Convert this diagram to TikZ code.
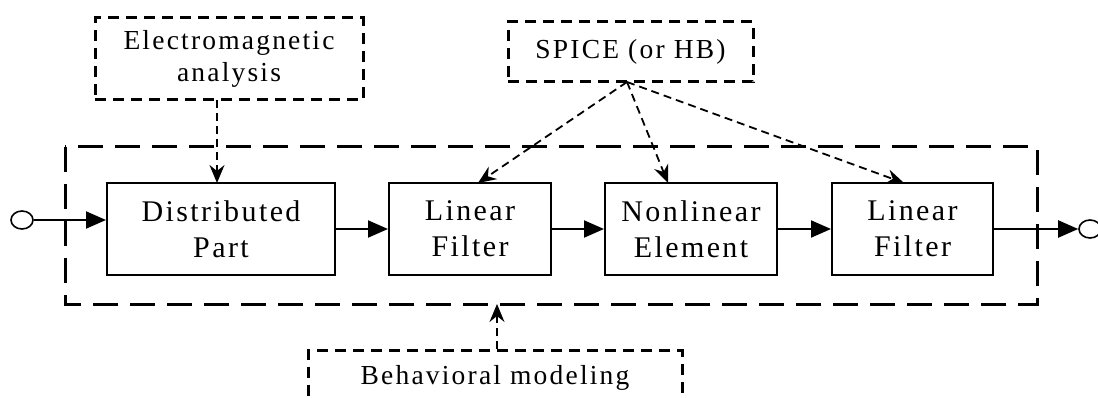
\documentclass[tikz,border=0pt]{standalone}
\usepackage{fontspec}
\setmainfont{Liberation Serif}[LetterSpace=8]
\usetikzlibrary{arrows.meta,calc,shapes.geometric}
\begin{document}
\begin{tikzpicture}[x=1pt,y=-1pt,
  blk/.style={draw,line width=2pt,inner sep=0pt,align=center,font=\fontsize{30}{36}\selectfont},
  dbox/.style={draw,line width=3pt,dash pattern=on 11pt off 7pt,inner sep=0pt,align=center,font=\fontsize{27.5}{32}\selectfont},
  flow/.style={line width=2pt,-{Triangle[length=20pt,width=17pt]}},
  dflow/.style={line width=1.8pt,dash pattern=on 8pt off 5pt,-{Stealth[length=18pt,width=15pt,inset=6pt]}},
  term/.style={draw,line width=1.6pt,ellipse,minimum width=22pt,minimum height=18pt,inner sep=0pt}]
\useasboundingbox (0,0) rectangle (1098,398);
\draw[line width=3pt,dash pattern=on 25pt off 12pt] (65,147) rectangle (1037,304);
\node[dbox,minimum width=268pt,minimum height=82pt] (em) at (229,59) {Electromagnetic\\analysis};
\node[dbox,minimum width=245pt,minimum height=60pt] (spice) at (630.5,52) {SPICE (or HB)};
\node[dbox,minimum width=374pt,minimum height=100pt,anchor=north] (beh) at (495,349) {};
\node[font=\fontsize{27.5}{32}\selectfont] (behtxt) at (495,378) {Behavioral modeling};
\node[blk,minimum width=228pt,minimum height=92pt] (dp) at (221,229) {Distributed\\Part};
\node[blk,minimum width=162pt,minimum height=92pt] (lf1) at (470,229) {Linear\\Filter};
\node[blk,minimum width=172pt,minimum height=92pt] (nl) at (691,229) {Nonlinear\\Element};
\node[blk,minimum width=161pt,minimum height=92pt] (lf2) at (912.5,229) {Linear\\Filter};
\node[term] (in) at (22,220) {};
\node[term] (out) at (1090,229) {};
\coordinate (s0) at (627,82);
\coordinate (e1) at (217,100);
\coordinate (e2) at (217,183);
\coordinate (b1) at (497,349);
\coordinate (b2) at (497,304);
\coordinate (t1) at (478,183);
\coordinate (t2) at (668,183);
\coordinate (t3) at (904,183);
\draw[flow] (in) -- (in -| dp.west);
\draw[flow] (dp) -- (lf1);
\draw[flow] (lf1) -- (nl);
\draw[flow] (nl) -- (lf2);
\draw[flow] (lf2) -- (out);
\draw[dflow] (e1) -- (e2);
\draw[dflow] (b1) -- (b2);
\draw[dflow] (s0) -- (t1);
\draw[dflow] (s0) -- (t2);
\draw[dflow] (s0) -- (t3);
\end{tikzpicture}
\end{document}
